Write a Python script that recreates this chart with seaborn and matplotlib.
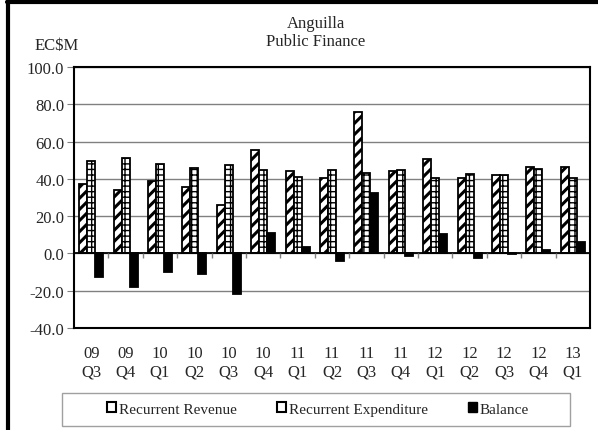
import numpy as np
import pandas as pd
import seaborn as sns
import matplotlib.pyplot as plt
import matplotlib.patches as mpatches
from matplotlib.lines import Line2D

sns.set_style("white")
plt.rcParams['font.family'] = ['Liberation Serif', 'DejaVu Serif']
plt.rcParams['hatch.linewidth'] = 1.0

# Data (EC$M)
quarters = ["09\nQ3", "09\nQ4", "10\nQ1", "10\nQ2", "10\nQ3", "10\nQ4", "11\nQ1", "11\nQ2",
            "11\nQ3", "11\nQ4", "12\nQ1", "12\nQ2", "12\nQ3", "12\nQ4", "13\nQ1"]
revenue = [37.1, 33.9, 38.6, 35.7, 26.2, 55.5, 44.1, 40.7, 75.9, 44.3, 50.4, 40.7, 42.3, 46.6, 46.1]
expenditure = [49.6, 51.4, 48.0, 46.0, 47.5, 44.6, 40.9, 44.6, 43.4, 45.0, 40.2, 42.7, 42.1, 45.2, 40.4]
balance = [-12.8, -18.2, -9.8, -11.0, -21.8, 10.9, 3.6, -4.1, 32.3, -1.2, 10.4, -2.5, -0.5, 1.6, 6.1]
series = ["Recurrent Revenue", "Recurrent Expenditure", "Balance"]

df = pd.DataFrame({"quarter": quarters * 3,
                   "series": np.repeat(series, len(quarters)),
                   "value": revenue + expenditure + balance})

fig = plt.figure(figsize=(5.98, 4.31), dpi=100)
ax = fig.add_axes([0.1237, 0.2367, 0.8629, 0.6055])

sns.barplot(data=df, x="quarter", y="value", hue="series", hue_order=series,
            palette=["white", "white", "black"], edgecolor="black", linewidth=1.3,
            width=0.7, gap=0, legend=False, ax=ax)

hatches = ["///", "+++", ""]
hatch_lw = [2.2, 1.0, 1.0]
for cont, h, hl in zip(ax.containers, hatches, hatch_lw):
    for bar in cont:
        bar.set_hatch(h)
        if hasattr(bar, "set_hatch_linewidth"):
            bar.set_hatch_linewidth(hl)
        else:
            bar._hatch_linewidth = hl

ax.set_ylim(-40, 100)
ax.set_yticks(np.arange(-40, 101, 20))
ax.set_yticklabels([f"{v:.1f}" for v in np.arange(-40, 101, 20)], fontsize=12)
ax.set_xlim(-0.5, len(quarters) - 0.5)
ax.set_xticks(range(len(quarters)))
ax.set_xticklabels(quarters, fontsize=12, linespacing=1.25)
ax.tick_params(axis="x", length=0, pad=12)
ax.tick_params(axis="y", length=5, color="#808080", direction="out", left=True, pad=2)
ax.set_xlabel("")
ax.set_ylabel("")
ax.yaxis.grid(True, color="#808080", linewidth=1)
ax.set_axisbelow(True)
for s in ax.spines.values():
    s.set_color("black")
    s.set_linewidth(1.5)

ax.axhline(0, color="black", linewidth=1.3, zorder=1.5)
ax.vlines(np.arange(0.5, len(quarters) - 1), -2.7, 0, color="#808080", linewidth=1)

fig.text(0.528, 0.944, "Anguilla", ha="center", va="center", fontsize=12)
fig.text(0.528, 0.902, "Public Finance", ha="center", va="center", fontsize=12)
fig.text(0.095, 0.894, "EC$M", ha="center", va="center", fontsize=12)

# legend box
fig.add_artist(mpatches.Rectangle((62 / 598, 1 - 427 / 431), 508 / 598, 33 / 431,
                                  transform=fig.transFigure, facecolor="white",
                                  edgecolor="#a0a0a0", linewidth=1))
handles = [mpatches.Patch(facecolor="white", edgecolor="black", linewidth=1.5),
           mpatches.Patch(facecolor="white", edgecolor="black", linewidth=1.5),
           mpatches.Patch(facecolor="black", edgecolor="black")]
fig.legend(handles, series, loc="center", ncol=3, fontsize=11,
           bbox_to_anchor=(318 / 598, 1 - 410 / 431), frameon=False,
           handlelength=0.6, handleheight=0.6, handletextpad=0.2, columnspacing=2.6)

# outer frame lines (left and top)
fig.add_artist(Line2D([0.014, 0.014], [0, 0.995], transform=fig.transFigure, color="black", linewidth=3))
fig.add_artist(Line2D([0.012, 1], [0.992, 0.992], transform=fig.transFigure, color="black", linewidth=3))

fig.savefig("out.png", dpi=100)
